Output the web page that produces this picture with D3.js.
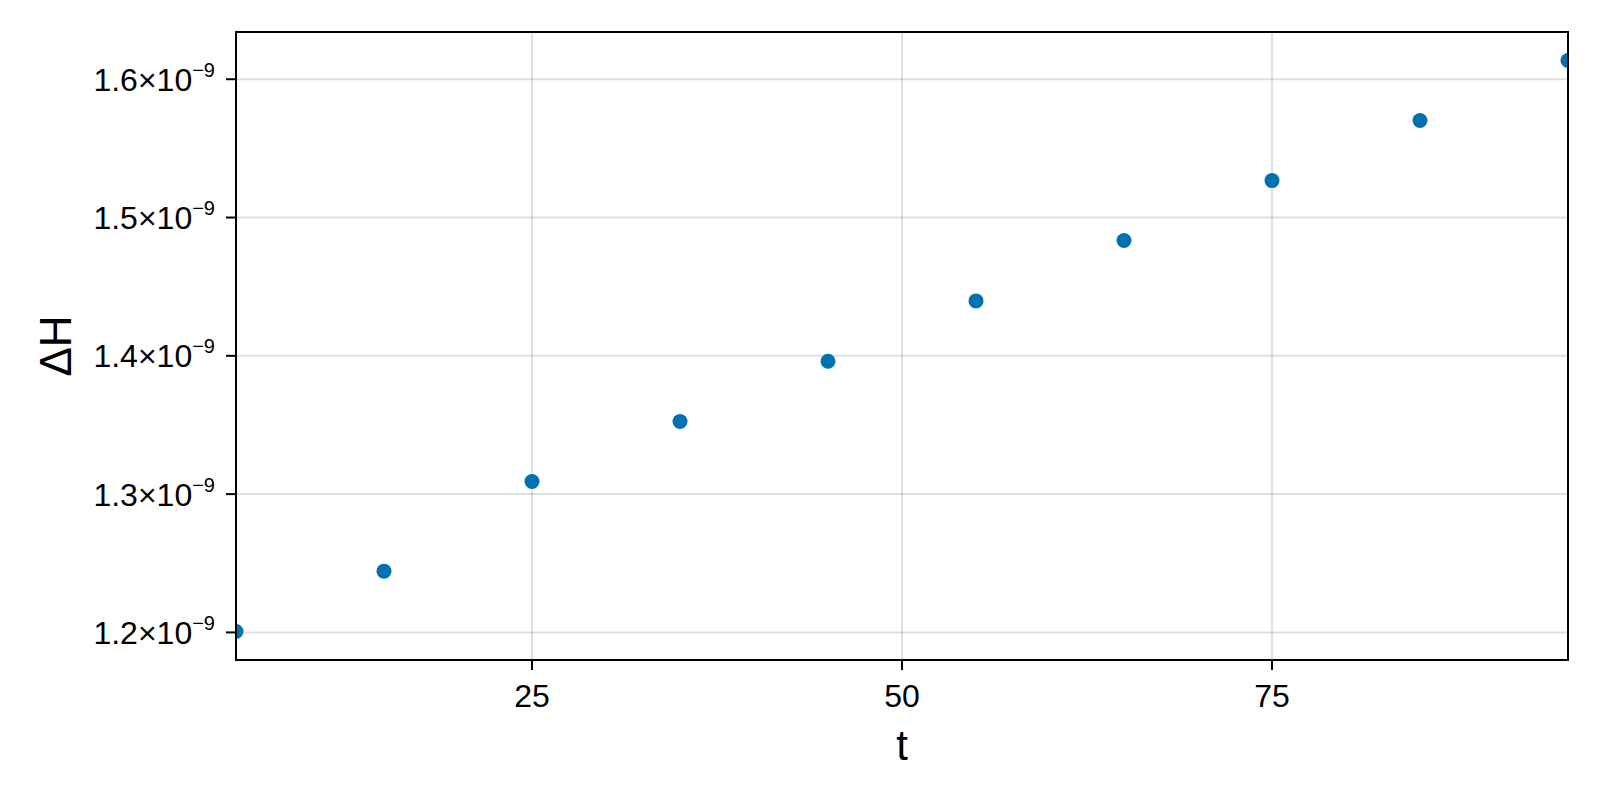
<!DOCTYPE html>
<html>
<head>
<meta charset="utf-8">
<script src="https://cdn.jsdelivr.net/npm/d3@7"></script>
<style>
  html, body { margin: 0; padding: 0; background: #fff; }
  svg { display: block; font-family: "Liberation Sans", Arial, Helvetica, sans-serif; }
</style>
</head>
<body>
<svg id="chart" width="1600" height="800"></svg>
<script>
// Data
const tValues = [5, 15, 25, 35, 45, 55, 65, 75, 85, 95];
const deltaH = [1.2007e-9, 1.2443e-9, 1.3091e-9, 1.3525e-9, 1.3961e-9, 1.4397e-9, 1.4834e-9, 1.5267e-9, 1.5701e-9, 1.6135e-9];
const xTicks = [25, 50, 75];
const yTicks = [1.2e-9, 1.3e-9, 1.4e-9, 1.5e-9, 1.6e-9];
const yTickMantissas = ["1.2", "1.3", "1.4", "1.5", "1.6"];
const yTickExponent = "−9";
const xLabel = "t";
const yLabel = "ΔH";

const svg = d3.select("#chart");
const W = 1600, H = 800;
const m = { left: 236, right: 1600 - 1568, top: 32, bottom: 800 - 660 };
const pw = W - m.left - m.right, ph = H - m.top - m.bottom;

svg.append("rect").attr("width", W).attr("height", H).attr("fill", "#fff");

const x = d3.scaleLinear().domain([5, 95]).range([m.left, m.left + pw]);
const yMin = d3.min(deltaH), yMax = d3.max(deltaH), pad = (yMax - yMin) * 0.05;
const y = d3.scaleLinear().domain([yMin - pad, yMax + pad]).range([m.top + ph, m.top]);

const grid = svg.append("g");
grid.selectAll("line.gx").data(xTicks).join("line")
  .attr("x1", d => x(d)).attr("x2", d => x(d))
  .attr("y1", m.top).attr("y2", m.top + ph)
  .attr("stroke", "rgba(0,0,0,0.12)").attr("stroke-width", 2);
grid.selectAll("line.gy").data(yTicks).join("line")
  .attr("x1", m.left).attr("x2", m.left + pw)
  .attr("y1", d => y(d)).attr("y2", d => y(d))
  .attr("stroke", "rgba(0,0,0,0.12)").attr("stroke-width", 2);

svg.append("clipPath").attr("id", "clip").append("rect")
  .attr("x", m.left).attr("y", m.top).attr("width", pw).attr("height", ph);

svg.append("g").attr("clip-path", "url(#clip)")
  .selectAll("circle").data(tValues).join("circle")
  .attr("cx", d => x(d))
  .attr("cy", (d, i) => y(deltaH[i]))
  .attr("r", 7.5)
  .attr("fill", "#0072B2");

// Frame
svg.append("rect")
  .attr("x", m.left).attr("y", m.top).attr("width", pw).attr("height", ph)
  .attr("fill", "none").attr("stroke", "#000").attr("stroke-width", 2);

// X axis ticks
const xAxis = svg.append("g");
xAxis.selectAll("line").data(xTicks).join("line")
  .attr("x1", d => x(d)).attr("x2", d => x(d))
  .attr("y1", m.top + ph).attr("y2", m.top + ph + 10)
  .attr("stroke", "#000").attr("stroke-width", 2);
xAxis.selectAll("text").data(xTicks).join("text")
  .attr("x", d => x(d)).attr("y", m.top + ph + 47)
  .attr("text-anchor", "middle").attr("font-size", 32).attr("fill", "#000")
  .text(d => d);

// Y axis ticks
const yAxis = svg.append("g");
yAxis.selectAll("line").data(yTicks).join("line")
  .attr("x1", m.left - 10).attr("x2", m.left)
  .attr("y1", d => y(d)).attr("y2", d => y(d))
  .attr("stroke", "#000").attr("stroke-width", 2);
const yt = yAxis.selectAll("text").data(yTicks).join("text")
  .attr("x", m.left - 21).attr("y", d => y(d) + 11.5)
  .attr("text-anchor", "end").attr("font-size", 32).attr("fill", "#000");
yt.append("tspan").text((d, i) => yTickMantissas[i] + "×10");
yt.append("tspan").attr("font-size", 20).attr("dy", -14).text(yTickExponent);

// Axis labels
svg.append("text")
  .attr("x", m.left + pw / 2).attr("y", 760)
  .attr("text-anchor", "middle").attr("font-size", 42).attr("fill", "#000")
  .text(xLabel);
svg.append("text")
  .attr("transform", `translate(71, ${m.top + ph / 2}) rotate(-90)`)
  .attr("text-anchor", "middle").attr("font-size", 44).attr("fill", "#000")
  .text(yLabel);
</script>
</body>
</html>
